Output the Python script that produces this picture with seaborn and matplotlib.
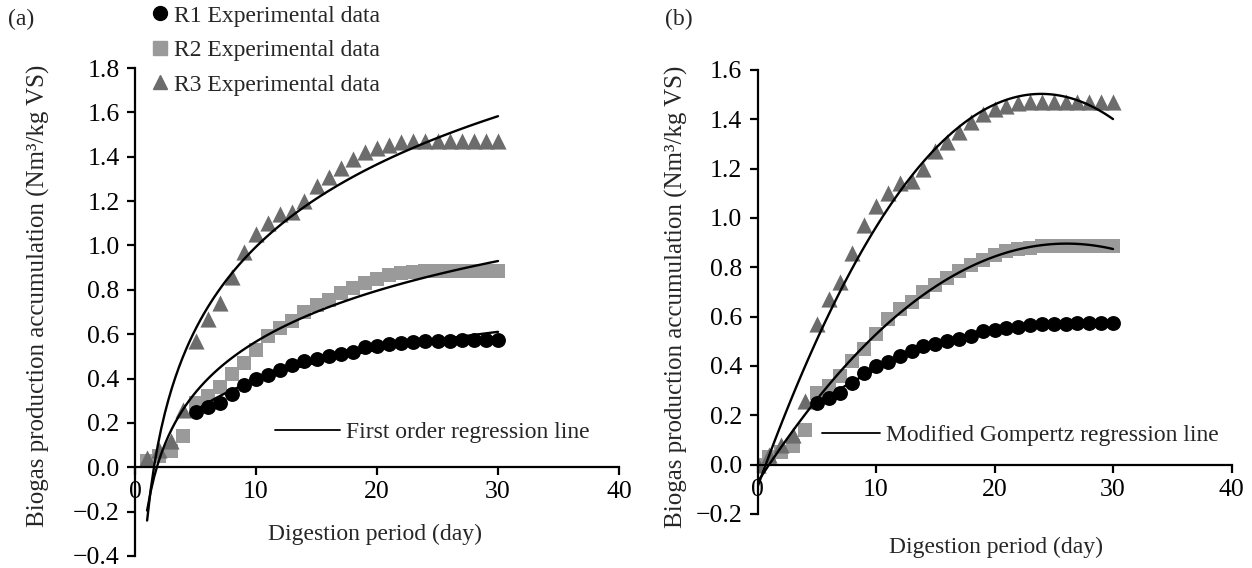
import numpy as np
import matplotlib
matplotlib.use("Agg")
import matplotlib.pyplot as plt
from matplotlib.lines import Line2D
import seaborn as sns

# ---------------- data ----------------
days = np.arange(0, 31)
r1_days = np.arange(5, 31)
r1 = [0.25, 0.27, 0.29, 0.33, 0.37, 0.40, 0.415, 0.44, 0.46, 0.48, 0.49, 0.50,
      0.51, 0.52, 0.54, 0.545, 0.555, 0.56, 0.565, 0.57, 0.57, 0.57, 0.575,
      0.575, 0.575, 0.575]
r2 = [0.00, 0.03, 0.05, 0.075, 0.14, 0.29, 0.32, 0.36, 0.42, 0.47, 0.53, 0.59,
      0.63, 0.66, 0.70, 0.73, 0.755, 0.785, 0.81, 0.83, 0.85, 0.865, 0.875,
      0.88, 0.885, 0.885, 0.885, 0.885, 0.885, 0.885, 0.885]
r3 = [0.00, 0.04, 0.08, 0.12, 0.26, 0.57, 0.67, 0.74, 0.86, 0.97, 1.05, 1.10,
      1.14, 1.15, 1.20, 1.27, 1.31, 1.35, 1.39, 1.42, 1.44, 1.455, 1.465, 1.47,
      1.47, 1.47, 1.47, 1.47, 1.47, 1.47, 1.47]

series_labels = ["R1 Experimental data", "R2 Experimental data", "R3 Experimental data"]
fit_labels = ["First order regression line", "Modified Gompertz regression line"]
panel_labels = ["(a)", "(b)"]
xlabel = "Digestion period (day)"
ylabel = "Biogas production accumulation (Nm\u00b3/kg VS)"
x_ticks = [0, 10, 20, 30, 40]
y_ticks_a = [-0.4, -0.2, 0.0, 0.2, 0.4, 0.6, 0.8, 1.0, 1.2, 1.4, 1.6, 1.8]
y_ticks_b = [-0.2, 0.0, 0.2, 0.4, 0.6, 0.8, 1.0, 1.2, 1.4, 1.6]

# ---------------- style ----------------
sns.set_theme(style="white")
plt.rcParams["font.family"] = ["Liberation Serif", "DejaVu Serif"]
FS = 17
FS_TICK = 18.5
FS_YLAB = 18

C1, C2, C3 = "#000000", "#9a9a9a", "#6c6c6c"

W, H = 1252, 568
fig = plt.figure(figsize=(W / 100, H / 100), dpi=100)
ax1 = fig.add_axes([135 / W, 1 - 556 / H, 484 / W, 488 / H])
ax2 = fig.add_axes([757.5 / W, 1 - 514 / H, 474 / W, 444 / H])

days = np.asarray(days)
r2 = np.asarray(r2)
r3 = np.asarray(r3)
r1 = np.asarray(r1)
r1_days = np.asarray(r1_days)


def draw(ax, fit_kw, first_day):
    m = days >= first_day
    sns.scatterplot(x=days[m], y=r2[m], marker="s", color=C2, s=105,
                    linewidth=0, zorder=2, ax=ax, legend=False)
    sns.scatterplot(x=days[m], y=r3[m], marker="^", color=C3, s=135,
                    linewidth=0, zorder=2, ax=ax, legend=False)
    for xs, ys in [(r1_days, r1), (days[m], r2[m]), (days[m], r3[m])]:
        sns.regplot(x=xs, y=ys, scatter=False, ci=None, color="black",
                    line_kws=dict(lw=1.7, zorder=3), ax=ax, **fit_kw)
    sns.scatterplot(x=r1_days, y=r1, marker="o", color=C1, s=115,
                    linewidth=0, zorder=4, ax=ax, legend=False)


draw(ax1, dict(logx=True), 1)
draw(ax2, dict(order=2), 0)


def fmt(v):
    s = f"{abs(v):.1f}"
    return ("\u2212" + s) if v < -1e-9 else s


for ax, yt, lim in [(ax1, y_ticks_a, (-0.4, 1.8)), (ax2, y_ticks_b, (-0.2, 1.6))]:
    ax.set_xlim(0, 40)
    ax.set_ylim(*lim)
    ax.set_xticks(x_ticks)
    ax.set_yticks(yt)
    ax.set_yticklabels([fmt(v) for v in yt])
    ax.spines["top"].set_visible(False)
    ax.spines["right"].set_visible(False)
    ax.spines["bottom"].set_position(("data", 0))
    for s in ["left", "bottom"]:
        ax.spines[s].set_color("black")
        ax.spines[s].set_linewidth(1.6)
    ax.tick_params(axis="both", direction="out", length=6, width=1.6,
                   colors="black", labelsize=FS_TICK, left=True, bottom=True)
    ax.tick_params(axis="y", pad=5)
    ax.tick_params(axis="x", pad=4)
    ax.set_xlabel(xlabel, fontsize=FS)
    ax.set_ylabel(ylabel, fontsize=FS_YLAB)
    ax.patch.set_alpha(0)

ax1.xaxis.set_label_coords(0.496, 0.066)
ax1.yaxis.set_label_coords(-0.176, 0.533)
ax2.xaxis.set_label_coords(0.503, -0.052)
ax2.yaxis.set_label_coords(-0.147, 0.489)

# panel labels
fig.text(8 / W, 1 - 19 / H, panel_labels[0], fontsize=FS, va="center", ha="left")
fig.text(665 / W, 1 - 19 / H, panel_labels[1], fontsize=FS, va="center", ha="left")

# marker legend (top of panel a)
handles = [Line2D([], [], ls="none", marker="o", color=C1, markersize=10),
           Line2D([], [], ls="none", marker="s", color=C2, markersize=9.5),
           Line2D([], [], ls="none", marker="^", color=C3, markersize=10)]
fig.legend(handles, series_labels, loc="upper left",
           bbox_to_anchor=(153 / W, 1 - 5 / H), frameon=False, fontsize=FS,
           handlelength=0.6, handletextpad=0.3, labelspacing=0.55,
           borderaxespad=0, borderpad=0)

# regression legends
lh = [Line2D([], [], color="black", lw=1.3)]
ax1.legend(lh, [fit_labels[0]], loc="center left",
           bbox_to_anchor=((275 - 135) / 484, (556 - 432) / 488),
           frameon=False, fontsize=FS, handlelength=2.75,
           handletextpad=0.25, borderpad=0, borderaxespad=0)
ax2.legend(lh, [fit_labels[1]], loc="center left",
           bbox_to_anchor=((822 - 757.5) / 474, (514 - 435) / 444),
           frameon=False, fontsize=FS, handlelength=2.45,
           handletextpad=0.25, borderpad=0, borderaxespad=0)

fig.savefig("out.png", dpi=100)
